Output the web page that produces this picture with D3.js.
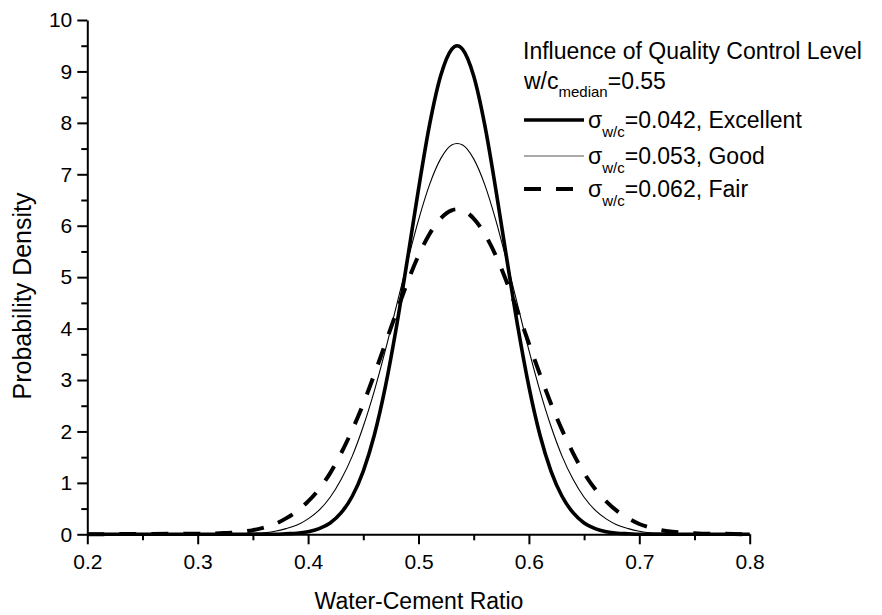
<!DOCTYPE html>
<html>
<head>
<meta charset="utf-8">
<script src="https://cdn.jsdelivr.net/npm/d3@7"></script>
<style>
  html, body { margin: 0; padding: 0; background: #fff; }
  svg { display: block; }
  text { font-family: "Liberation Sans", Arial, sans-serif; fill: #000; }
</style>
</head>
<body>
<svg id="chart" width="882" height="615"></svg>
<script>
// ---- data ----
const wcRatio = [0.2,
  0.30,0.31,0.32,0.33,0.34,0.35,0.36,0.37,0.38,0.39,0.40,0.41,0.42,0.43,0.44,0.45,0.46,0.47,0.48,0.49,0.50,0.51,0.52,0.53,
  0.535,
  0.54,0.55,0.56,0.57,0.58,0.59,0.60,0.61,0.62,0.63,0.64,0.65,0.66,0.67,0.68,0.69,0.70,0.71,0.72,0.73,0.74,0.75,0.76,0.77,
  0.8];
const excellent = [0,
  0,0,0,0,0,0,0,0,0.01,0.02,0.05,0.11,0.22,0.42,0.74,1.23,1.93,2.87,4.03,5.35,6.71,7.96,8.91,9.43,
  9.50,
  9.43,8.91,7.96,6.71,5.35,4.03,2.87,1.93,1.23,0.74,0.42,0.22,0.11,0.05,0.02,0.01,0,0,0,0,0,0,0,0,
  0];
const good = [0,
  0,0,0,0.01,0.01,0.02,0.03,0.06,0.11,0.18,0.30,0.47,0.72,1.07,1.52,2.10,2.79,3.58,4.44,5.30,6.11,6.80,7.30,7.57,
  7.60,
  7.57,7.30,6.80,6.11,5.30,4.44,3.58,2.79,2.10,1.52,1.07,0.72,0.47,0.30,0.18,0.11,0.06,0.03,0.02,0.01,0.01,0,0,0,
  0];
const fair = [0,
  0.01,0.01,0.02,0.03,0.05,0.08,0.13,0.20,0.31,0.45,0.64,0.88,1.19,1.58,2.03,2.54,3.11,3.71,4.32,4.90,5.42,5.84,6.14,6.30,
  6.32,
  6.30,6.14,5.84,5.42,4.90,4.32,3.71,3.11,2.54,2.03,1.58,1.19,0.88,0.64,0.45,0.31,0.20,0.13,0.08,0.05,0.03,0.02,0.01,0.01,
  0];
const xTicks = [0.2, 0.3, 0.4, 0.5, 0.6, 0.7, 0.8];
const xMinorTicks = [0.25, 0.35, 0.45, 0.55, 0.65, 0.75];
const yTicks = [0,1,2,3,4,5,6,7,8,9,10];
const yMinorTicks = [0.5,1.5,2.5,3.5,4.5,5.5,6.5,7.5,8.5,9.5];
const seriesNames = ["=0.042, Excellent", "=0.053, Good", "=0.062, Fair"];
const legendTitle = "Influence of Quality Control Level";
const xTitle = "Water-Cement Ratio";
const yTitle = "Probability Density";

// ---- drawing ----
const svg = d3.select("#chart");
const x = d3.scaleLinear().domain([0.2, 0.8]).range([87.3, 749.7]);
const y = d3.scaleLinear().domain([0, 10]).range([534.3, 20]);

const series = [
  {name: seriesNames[0], values: excellent, width: 3.6, dash: null},
  {name: seriesNames[1], values: good, width: 1.1, dash: null},
  {name: seriesNames[2], values: fair, width: 4, dash: "17,15"}
];

const line = d3.line()
  .x((d, i) => x(wcRatio[i]))
  .y(d => y(d))
  .curve(d3.curveMonotoneX);

svg.append("g").selectAll("path").data(series).join("path")
  .attr("d", s => line(s.values))
  .attr("fill", "none")
  .attr("stroke", "#000")
  .attr("stroke-width", s => s.width)
  .attr("stroke-dasharray", s => s.dash)
  .attr("stroke-linejoin", "round");

// axes
function styleAxis(g) {
  g.select(".domain").attr("stroke", "#000").attr("stroke-width", 2);
  g.selectAll(".tick line").attr("stroke", "#000").attr("stroke-width", 2);
  g.selectAll(".tick text").attr("font-size", 21).attr("font-family", "Liberation Sans, Arial, sans-serif").attr("fill", "#000");
}
const gx = svg.append("g").attr("transform", `translate(0,${y(0)})`)
  .call(d3.axisBottom(x).tickValues(xTicks).tickSize(10).tickSizeOuter(0).tickPadding(10).tickFormat(d3.format(".1f")));
styleAxis(gx);
const gxm = svg.append("g").attr("transform", `translate(0,${y(0)})`)
  .call(d3.axisBottom(x).tickValues(xMinorTicks).tickSize(6).tickSizeOuter(0).tickFormat(""));
styleAxis(gxm); gxm.select(".domain").remove();

const gy = svg.append("g").attr("transform", `translate(${x(0.2)},0)`)
  .call(d3.axisLeft(y).tickValues(yTicks).tickSize(10).tickSizeOuter(0).tickPadding(5).tickFormat(d3.format("d")));
styleAxis(gy);
const gym = svg.append("g").attr("transform", `translate(${x(0.2)},0)`)
  .call(d3.axisLeft(y).tickValues(yMinorTicks).tickSize(6).tickSizeOuter(0).tickFormat(""));
styleAxis(gym); gym.select(".domain").remove();

// axis titles
svg.append("text").attr("x", 419).attr("y", 609).attr("text-anchor", "middle")
  .attr("font-size", 23).text(xTitle);
svg.append("text").attr("transform", "translate(31,296) rotate(-90)").attr("text-anchor", "middle")
  .attr("font-size", 25).text(yTitle);

// legend
const lg = svg.append("g");
lg.append("text").attr("x", 523).attr("y", 59).attr("font-size", 23).text(legendTitle);
const t2 = lg.append("text").attr("x", 524).attr("y", 89).attr("font-size", 23);
t2.append("tspan").text("w/c");
t2.append("tspan").attr("font-size", 15).attr("dy", 8).text("median");
t2.append("tspan").attr("dy", -8).text("=0.55");

const rowY = [120, 156, 189];
series.forEach((s, i) => {
  lg.append("line").attr("x1", 524).attr("x2", 584).attr("y1", rowY[i]).attr("y2", rowY[i])
    .attr("stroke", i === 1 ? "#555" : "#000").attr("stroke-width", s.width)
    .attr("stroke-dasharray", s.dash);
  const t = lg.append("text").attr("x", 588).attr("y", rowY[i] + 8).attr("font-size", 23);
  t.append("tspan").text("σ");
  t.append("tspan").attr("font-size", 15).attr("dy", 9).text("w/c");
  t.append("tspan").attr("dy", -9).text(s.name);
});
</script>
</body>
</html>
